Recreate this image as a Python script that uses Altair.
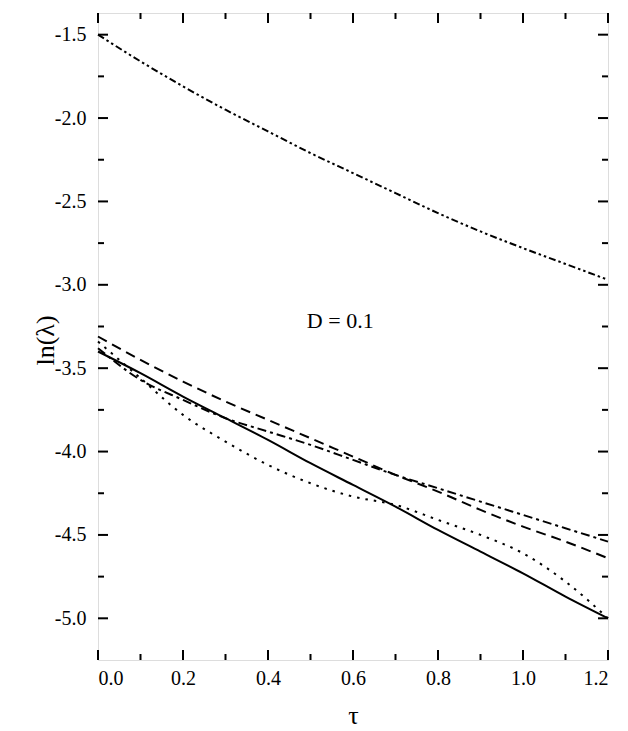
import altair as alt
import pandas as pd

# ---- data ----
tau = [0.0, 0.1, 0.2, 0.3, 0.4, 0.5, 0.6, 0.7, 0.8, 0.9, 1.0, 1.1, 1.2]
solid = [-3.40, -3.53, -3.67, -3.80, -3.93, -4.07, -4.20, -4.33, -4.47, -4.60, -4.73, -4.87, -5.00]
dashed = [-3.31, -3.45, -3.58, -3.70, -3.81, -3.92, -4.03, -4.14, -4.24, -4.35, -4.45, -4.54, -4.64]
dotted = [-3.34, -3.56, -3.78, -3.94, -4.08, -4.19, -4.27, -4.32, -4.41, -4.50, -4.61, -4.78, -5.00]
dashdot = [-3.38, -3.57, -3.69, -3.80, -3.88, -3.96, -4.05, -4.14, -4.22, -4.30, -4.38, -4.46, -4.54]
dashdotdot = [-1.50, -1.66, -1.81, -1.95, -2.08, -2.21, -2.33, -2.45, -2.57, -2.68, -2.78, -2.875, -2.97]

x_major = [0.0, 0.2, 0.4, 0.6, 0.8, 1.0, 1.2]
x_minor = [0.1, 0.3, 0.5, 0.7, 0.9, 1.1]
y_major = [-5.0, -4.5, -4.0, -3.5, -3.0, -2.5, -2.0, -1.5]
y_minor = [-4.75, -4.25, -3.75, -3.25, -2.75, -2.25, -1.75]

annot_text = ["D = 0.1"]
annot_tau = [0.57]
annot_val = [-3.22]

W, H = 510, 647
FONT = "Liberation Serif"

xs = alt.Scale(domain=[0, 1.2], nice=False, zero=False)
ys = alt.Scale(domain=[-5.25, -1.37], nice=False, zero=False)

x_axis = alt.Axis(values=x_major, format=".1f", ticks=False, domain=False, grid=False,
                  labelFont=FONT, labelFontSize=20, labelColor="black", labelPadding=8,
                  title="τ", titleFont=FONT, titleFontSize=26, titleFontWeight="normal",
                  titleColor="black", titleX=W / 2, titleY=55, titleBaseline="middle")
y_axis = alt.Axis(values=y_major, ticks=False, domain=False, grid=False,
                  labelExpr="replace(format(datum.value, '.1f'), '\u2212', '-')",
                  labelFont=FONT, labelFontSize=20, labelColor="black", labelPadding=12,
                  title="ln(λ)", titleFont=FONT, titleFontSize=26, titleFontWeight="normal",
                  titleColor="black", titleX=-53, titleY=327, titleAngle=-90,
                  titleAlign="center", titleBaseline="middle")

X = alt.X("tau:Q", scale=xs, axis=x_axis)
Y = alt.Y("val:Q", scale=ys, axis=y_axis)


def line(vals, dash):
    df = pd.DataFrame({"tau": tau, "val": vals})
    kw = dict(color="black", strokeWidth=2, interpolate="monotone")
    if dash:
        kw["strokeDash"] = dash
    return alt.Chart(df).mark_line(**kw).encode(x=X, y=Y)


layers = [
    line(solid, None),
    line(dashed, [10, 6]),
    line(dotted, [2.5, 6]),
    line(dashdot, [9, 4, 3, 4]),
    line(dashdotdot, [7, 3, 2.5, 3, 2.5, 3]),
]

dfxM = pd.DataFrame({"tau": x_major})
dfxm = pd.DataFrame({"tau": x_minor})
dfyM = pd.DataFrame({"val": y_major})
dfym = pd.DataFrame({"val": y_minor})

tick = dict(color="black", strokeWidth=2)
for dfx, L in ((dfxM, 10), (dfxm, 6)):
    layers.append(alt.Chart(dfx).mark_rule(**tick).encode(x=X, y=alt.value(H), y2=alt.value(H - L)))
    layers.append(alt.Chart(dfx).mark_rule(**tick).encode(x=X, y=alt.value(0), y2=alt.value(L)))
for dfy, L in ((dfyM, 10), (dfym, 6)):
    layers.append(alt.Chart(dfy).mark_rule(**tick).encode(y=Y, x=alt.value(0), x2=alt.value(L)))
    layers.append(alt.Chart(dfy).mark_rule(**tick).encode(y=Y, x=alt.value(W), x2=alt.value(W - L)))

annot = alt.Chart(pd.DataFrame({"tau": annot_tau, "val": annot_val, "t": annot_text})).mark_text(
    font=FONT, fontSize=22, color="black", align="center", baseline="middle"
).encode(x=X, y=Y, text="t:N")
layers.append(annot)

chart = alt.layer(*layers).properties(
    width=W, height=H,
    autosize=alt.AutoSizeParams(type="none"),
    padding={"left": 90, "top": 5, "right": 10, "bottom": 71},
).configure_view(stroke="black", strokeWidth=2).configure(background="white")

chart.save("out.html", embed_options={"renderer": "svg", "actions": False})
